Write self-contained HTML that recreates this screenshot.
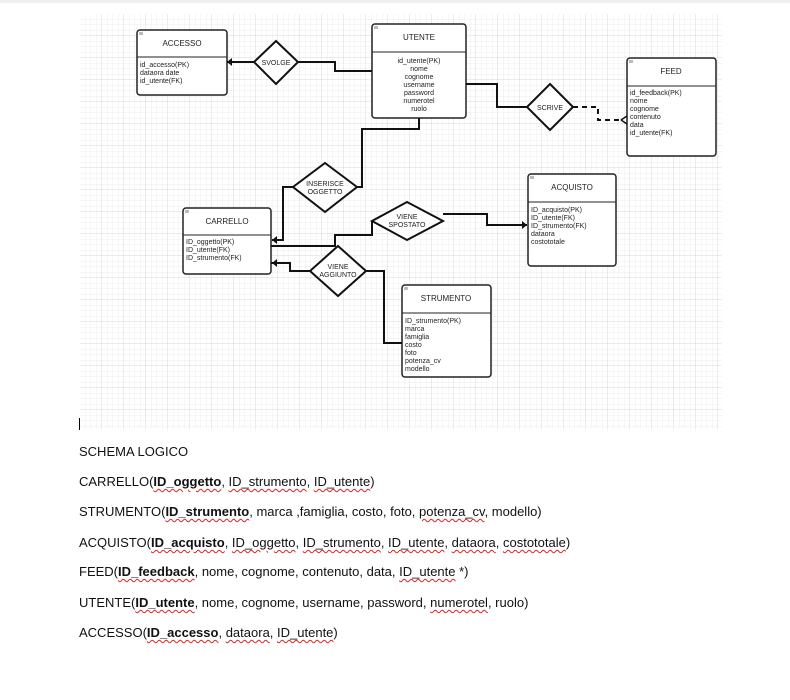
<!DOCTYPE html>
<html><head><meta charset="utf-8"><style>
body{margin:0;width:790px;height:700px;background:#fff;overflow:hidden;position:relative;font-family:"Liberation Sans",sans-serif}
.t{position:absolute;left:79px;font-size:13px;color:#111;white-space:nowrap}
.s{text-decoration:underline wavy #e02020;text-decoration-thickness:1px;text-underline-offset:2px}
</style></head><body>
<div style="position:absolute;left:0;top:0;width:790px;height:3px;background:#eee"></div>
<svg width="790" height="700" style="position:absolute;left:0;top:0" font-family="Liberation Sans, sans-serif">
<defs>
<pattern id="mi" width="5.5" height="5.5" patternUnits="userSpaceOnUse" x="80" y="14"><path d="M5.5 0V5.5H0" fill="none" stroke="#eeeeee" stroke-width="1"/></pattern>
<pattern id="ma" width="22" height="22" patternUnits="userSpaceOnUse" x="80" y="14"><path d="M22 0V22H0" fill="none" stroke="#dadada" stroke-width="1"/></pattern>
</defs>
<rect x="80" y="14" width="642" height="415" fill="url(#mi)"/>
<rect x="80" y="14" width="642" height="415" fill="url(#ma)"/>
<line x1="79.5" y1="418" x2="79.5" y2="430" stroke="#000"/>
<g fill="#fff" stroke="#222" stroke-width="1.5">
<rect x="137" y="30" width="90" height="65" rx="3"/>
<rect x="372" y="24" width="94" height="94" rx="3"/>
<rect x="627" y="58" width="89" height="98" rx="3"/>
<rect x="183" y="208" width="88" height="66" rx="3"/>
<rect x="528" y="174" width="88" height="92" rx="3"/>
<rect x="402" y="285" width="89" height="92" rx="3"/>
</g>
<g stroke="#222" stroke-width="1">
<line x1="137" y1="57" x2="227" y2="57"/>
<line x1="372" y1="52" x2="466" y2="52"/>
<line x1="627" y1="86" x2="716" y2="86"/>
<line x1="183" y1="235" x2="271" y2="235"/>
<line x1="528" y1="202" x2="616" y2="202"/>
<line x1="402" y1="313" x2="491" y2="313"/>
</g>
<g fill="#bbb"><rect x="139" y="32" width="4" height="3"/><rect x="374" y="26" width="4" height="3"/><rect x="629" y="60" width="4" height="3"/><rect x="185" y="210" width="4" height="3"/><rect x="530" y="176" width="4" height="3"/><rect x="404" y="287" width="4" height="3"/></g>
<g fill="none" stroke="#111" stroke-width="2">
<polyline points="227,62 254,62"/>
<polyline points="298,62 335,62 335,71 372,71"/>
<polyline points="466,84 497,84 497,107 527,107"/>
<polyline points="573,107 598,107 598,120 622,120" stroke-dasharray="5,4"/>
<polyline points="419,118 419,129 362,129 362,187 357,187"/>
<polyline points="293,187 283,187 283,240 272,240"/>
<polyline points="271,246 335,246 335,235 372,235 372,221"/>
<polyline points="443,214 487,214 487,225 527,225"/>
<polyline points="271,263 290,263 290,271 310,271"/>
<polyline points="366,271 384,271 384,343 402,343"/>
</g>
<g fill="#111"><path d="M227 62l5-4v8z"/><path d="M272 240l5-4v8z"/><path d="M527 225l-5-4v8z"/><path d="M272 263l5-4v8z"/></g>
<path d="M621 120L627 116M621 120L627 124" stroke="#111" stroke-width="1.5" fill="none"/>
<g fill="#fff" stroke="#111" stroke-width="2">
<polygon points="276,41 298,62 276,84 254,62"/>
<polygon points="550,84 573,107 550,130 527,107"/>
<polygon points="325,163 357,187 325,212 293,187"/>
<polygon points="407,202 443,221 407,240 372,221"/>
<polygon points="338,246 366,271 338,296 310,271"/>
</g>
<g font-size="7" fill="#222" text-anchor="middle">
<text x="182" y="46" font-size="8">ACCESSO</text>
<text x="419" y="40" font-size="8">UTENTE</text>
<text x="671" y="74" font-size="8">FEED</text>
<text x="227" y="224" font-size="8">CARRELLO</text>
<text x="572" y="190" font-size="8">ACQUISTO</text>
<text x="446" y="301" font-size="8">STRUMENTO</text>
<text x="276" y="65">SVOLGE</text>
<text x="550" y="110">SCRIVE</text>
<text x="325" y="186">INSERISCE</text><text x="325" y="194">OGGETTO</text>
<text x="407" y="219">VIENE</text><text x="407" y="227">SPOSTATO</text>
<text x="338" y="269">VIENE</text><text x="338" y="277">AGGIUNTO</text>
<text x="419" y="63">id_utente(PK)</text><text x="419" y="71">nome</text><text x="419" y="79">cognome</text><text x="419" y="87">username</text><text x="419" y="95">password</text><text x="419" y="103">numerotel</text><text x="419" y="111">ruolo</text>
</g>
<g font-size="7" fill="#222">
<text x="140" y="67">id_accesso(PK)</text><text x="140" y="75">dataora date</text><text x="140" y="83">id_utente(FK)</text>
<text x="630" y="95">id_feedback(PK)</text><text x="630" y="103">nome</text><text x="630" y="111">cognome</text><text x="630" y="119">contenuto</text><text x="630" y="127">data</text><text x="630" y="135">id_utente(FK)</text>
<text x="186" y="244">ID_oggetto(PK)</text><text x="186" y="252">ID_utente(FK)</text><text x="186" y="260">ID_strumento(FK)</text>
<text x="531" y="212">ID_acquisto(PK)</text><text x="531" y="220">ID_utente(FK)</text><text x="531" y="228">ID_strumento(FK)</text><text x="531" y="236">dataora</text><text x="531" y="244">costototale</text>
<text x="405" y="323">ID_strumento(PK)</text><text x="405" y="331">marca</text><text x="405" y="339">famiglia</text><text x="405" y="347">costo</text><text x="405" y="355">foto</text><text x="405" y="363">potenza_cv</text><text x="405" y="371">modello</text>
</g>
</svg>
<div class="t" style="top:444px">SCHEMA LOGICO</div>
<div class="t" style="top:474px">CARRELLO(<b class="s">ID_oggetto</b>, <span class="s">ID_strumento</span>, <span class="s">ID_utente</span>)</div>
<div class="t" style="top:504px">STRUMENTO(<b class="s">ID_strumento</b>, marca ,famiglia, costo, foto, <span class="s">potenza_cv</span>, modello)</div>
<div class="t" style="top:535px">ACQUISTO(<b class="s">ID_acquisto</b>, <span class="s">ID_oggetto</span>, <span class="s">ID_strumento</span>, <span class="s">ID_utente</span>, <span class="s">dataora</span>, <span class="s">costototale</span>)</div>
<div class="t" style="top:564px">FEED(<b class="s">ID_feedback</b>, nome, cognome, contenuto, data, <span class="s">ID_utente</span> *)</div>
<div class="t" style="top:595px">UTENTE(<b class="s">ID_utente</b>, nome, cognome, username, password, <span class="s">numerotel</span>, ruolo)</div>
<div class="t" style="top:625px">ACCESSO(<b class="s">ID_accesso</b>, <span class="s">dataora</span>, <span class="s">ID_utente</span>)</div>
</body></html>
